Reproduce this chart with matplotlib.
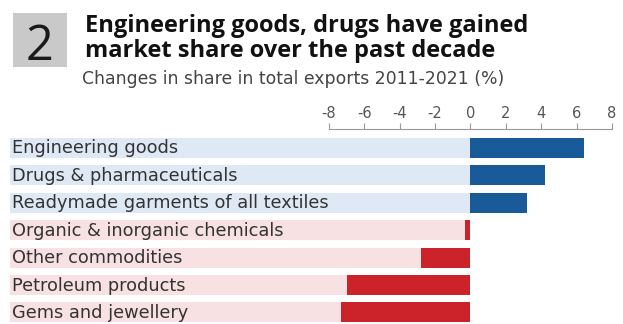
import matplotlib.pyplot as plt
from matplotlib.patches import Rectangle

# data
categories = [
    'Engineering goods',
    'Drugs & pharmaceuticals',
    'Readymade garments of all textiles',
    'Organic & inorganic chemicals',
    'Other commodities',
    'Petroleum products',
    'Gems and jewellery',
]
change = [6.4, 4.2, 3.2, -0.3, -2.8, -7.0, -7.3]
ticks = [-8, -6, -4, -2, 0, 2, 4, 6, 8]

plt.rcParams['font.family'] = ['DejaVu Sans']

W, H = 623, 324
fig = plt.figure(figsize=(W / 100, H / 100), dpi=100)

# axes placed in pixel coordinates
left_px, right_px, top_px, bot_px = 10, 615, 129, 324
ax = fig.add_axes([left_px / W, 1 - bot_px / H, (right_px - left_px) / W, (bot_px - top_px) / H])

px_per_unit = 17.7
x0 = -8 - (329 - left_px) / px_per_unit
x1 = 8 + (right_px - 612) / px_per_unit
ax.set_xlim(x0, x1)
ax.set_ylim(6.42, -0.69)

blue_bg, pink_bg = '#dfe9f5', '#f7e1e2'
blue, red = '#185b98', '#cc2229'
h = 0.73
for i, (cat, v) in enumerate(zip(categories, change)):
    pos = v >= 0
    ax.barh(i, 0 - x0, left=x0, height=h, color=blue_bg if pos else pink_bg, zorder=1)
    ax.barh(i, v, height=h, color=blue if pos else red, zorder=2)
    ax.text(x0 + 0.12, i + 0.02, cat, va='center', ha='left', fontsize=12.8, color='#333333', zorder=3)

ax.xaxis.tick_top()
ax.set_xticks(ticks)
ax.set_xticklabels([str(t) for t in ticks], fontsize=10.5, color='#555555')
ax.tick_params(axis='x', direction='out', length=4.5, width=0.8, color='#999999', pad=1)
ax.set_yticks([])
for s in ['left', 'right', 'bottom']:
    ax.spines[s].set_visible(False)
ax.spines['top'].set_bounds(-8, 8)
ax.spines['top'].set_color('#999999')
ax.spines['top'].set_linewidth(0.8)

# header
fig.patches.append(Rectangle((13 / W, 1 - 67 / H), 54 / W, 54 / H, transform=fig.transFigure,
                             facecolor='#c9c9c9', edgecolor='none'))
fig.text(40 / W, 1 - 60 / H, '2', ha='center', va='baseline', fontsize=35,
         family='Open Sans', color='#1a1a1a')
fig.text(85 / W, 1 - 32 / H, 'Engineering goods, drugs have gained', fontsize=17,
         family='Open Sans', fontweight='bold', color='#111111', va='baseline')
fig.text(85 / W, 1 - 57 / H, 'market share over the past decade', fontsize=17,
         family='Open Sans', fontweight='bold', color='#111111', va='baseline')
fig.text(82 / W, 1 - 84 / H, 'Changes in share in total exports 2011-2021 (%)', fontsize=12.4,
         color='#444444', va='baseline')

fig.savefig('out.png', dpi=100, facecolor='white')
